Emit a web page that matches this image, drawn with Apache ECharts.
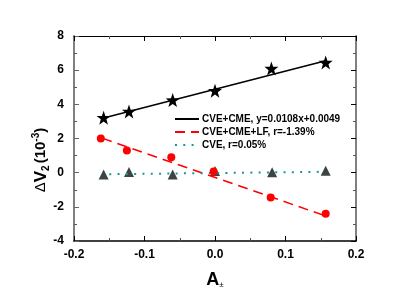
<!DOCTYPE html>
<html><head><meta charset="utf-8">
<script src="https://cdn.jsdelivr.net/npm/echarts@6/dist/echarts.min.js"></script>
<style>html,body{margin:0;padding:0;background:#fff}#c{width:415px;height:294px}</style>
</head><body><div id="c"></div>
<script>
const xCME = [-0.158, -0.122, -0.060, 0.000, 0.080, 0.157];
const yCME = [3.22, 3.58, 4.25, 4.80, 6.10, 6.45];
const xLF = [-0.162, -0.125, -0.062, -0.002, 0.079, 0.157];
const yLF = [2.00, 1.30, 0.90, 0.07, -1.45, -2.40];
const xCVE = [-0.158, -0.122, -0.060, 0.000, 0.081, 0.157];
const yCVE = [-0.10, 0.04, -0.11, 0.10, 0.02, 0.11];
const fitCME = [[-0.158, 3.20], [0.157, 6.55]];
const fitLF = [[-0.160, 2.02], [0.158, -2.55]];
const fitCVE = [[-0.150, -0.09], [0.155, 0.05]];
const xTicks = ['-0.2', '-0.1', '0.0', '0.1', '0.2'];
const legendNames = ['CVE+CME, y=0.0108x+0.0049', 'CVE+CME+LF, r=-1.39%', 'CVE, r=0.05%'];

const pair = (xs, ys) => xs.map((x, i) => [x, ys[i]]);
const FONT = '"Liberation Sans", Arial, sans-serif';
const star = 'path://M0,-10 L2.35,-3.24 L9.51,-3.09 L3.8,1.24 L5.88,8.09 L0,4 L-5.88,8.09 L-3.8,1.24 L-9.51,-3.09 L-2.35,-3.24 Z';

const chart = echarts.init(document.getElementById('c'), null, {renderer: 'canvas'});
const axisCommon = {
  axisTick: {inside: true, length: 5, lineStyle: {color: '#000', width: 1}},
  minorTick: {show: true, splitNumber: 2, length: 3, lineStyle: {color: '#555', width: 1}},
  splitLine: {show: false}
};
chart.setOption({
  animation: false,
  grid: {left: 74, right: 59, top: 36, bottom: 49},
  xAxis: [
    Object.assign({}, axisCommon, {
      type: 'value', min: -0.2, max: 0.2, interval: 0.1, position: 'bottom',
      axisLine: {onZero: false, lineStyle: {color: '#000', width: 1.5}},
      axisLabel: {margin: 8, color: '#000', fontFamily: FONT, fontWeight: 'bold', fontSize: 12,
        formatter: (v) => xTicks[Math.round((v + 0.2) / 0.1)]},
      name: '{a|A}{s|±}', nameLocation: 'middle', nameGap: 30,
      nameTextStyle: {rich: {
        a: {fontFamily: FONT, fontWeight: 'bold', fontSize: 18, color: '#000'},
        s: {fontFamily: FONT, fontSize: 8, color: '#000', verticalAlign: 'bottom', padding: [10, 0, 0, 0]}
      }}
    }),
    Object.assign({}, axisCommon, {
      type: 'value', min: -0.2, max: 0.2, interval: 0.1, position: 'top',
      axisLine: {onZero: false, lineStyle: {color: '#000', width: 1}},
      axisLabel: {show: false}
    })
  ],
  yAxis: [
    Object.assign({}, axisCommon, {
      type: 'value', min: -4, max: 8, interval: 2, position: 'left',
      axisLine: {onZero: false, lineStyle: {color: '#808080', width: 2}},
      axisTick: {inside: true, length: 5, lineStyle: {color: '#666', width: 1}},
      axisLabel: {margin: 10, color: '#000', fontFamily: FONT, fontWeight: 'bold', fontSize: 12}
    }),
    Object.assign({}, axisCommon, {
      type: 'value', min: -4, max: 8, interval: 2, position: 'right',
      axisLine: {onZero: false, lineStyle: {color: '#808080', width: 2}},
      axisLabel: {show: false}
    })
  ],
  legend: {
    orient: 'vertical', left: 169, top: 109, itemWidth: 24, itemHeight: 10, itemGap: 3,
    data: legendNames,
    itemStyle: {opacity: 0},
    textStyle: {fontFamily: FONT, fontWeight: 'bold', fontSize: 10, color: '#000', padding: [0, 0, 0, -2]}
  },
  series: [
    {name: legendNames[0], type: 'line', data: fitCME, symbol: 'none', lineStyle: {color: '#000', width: 1.5}, itemStyle: {color: '#000'}, z: 2},
    {name: legendNames[1], type: 'line', data: fitLF, symbol: 'none', lineStyle: {color: '#ff0000', width: 1.5, type: [10, 6]}, itemStyle: {color: '#ff0000'}, z: 2},
    {name: legendNames[2], type: 'line', data: fitCVE, symbol: 'none', lineStyle: {color: '#129a9a', width: 2, type: [2, 6.3]}, itemStyle: {color: '#129a9a'}, z: 2},
    {type: 'scatter', data: pair(xCME, yCME), symbol: star, symbolSize: 14, itemStyle: {color: '#000', opacity: 1}, z: 3},
    {type: 'scatter', data: pair(xLF, yLF), symbol: 'circle', symbolSize: 8, itemStyle: {color: '#ff0000', opacity: 1}, z: 3},
    {type: 'scatter', data: pair(xCVE, yCVE), symbol: 'triangle', symbolSize: 10, itemStyle: {color: '#3c4545', opacity: 1}, z: 1}
  ],
  graphic: [{
    type: 'text', x: 41, y: 160, rotation: Math.PI / 2,
    style: {
      text: '{d|Δ}{v|V}{s|2}{p|(10}{u|-3}{p|)}',
      align: 'center', verticalAlign: 'middle',
      rich: {
        d: {fontFamily: FONT, fontSize: 15, fill: '#000'},
        v: {fontFamily: FONT, fontSize: 17, fontWeight: 'bold', fill: '#000'},
        s: {fontFamily: FONT, fontSize: 10, fontWeight: 'bold', fill: '#000', padding: [10, 2, 0, 0]},
        p: {fontFamily: FONT, fontSize: 15, fontWeight: 'bold', fill: '#000'},
        u: {fontFamily: FONT, fontSize: 10, fontWeight: 'bold', fill: '#000', padding: [0, 0, 10, 0]}
      }
    }
  }]
});
</script></body></html>
